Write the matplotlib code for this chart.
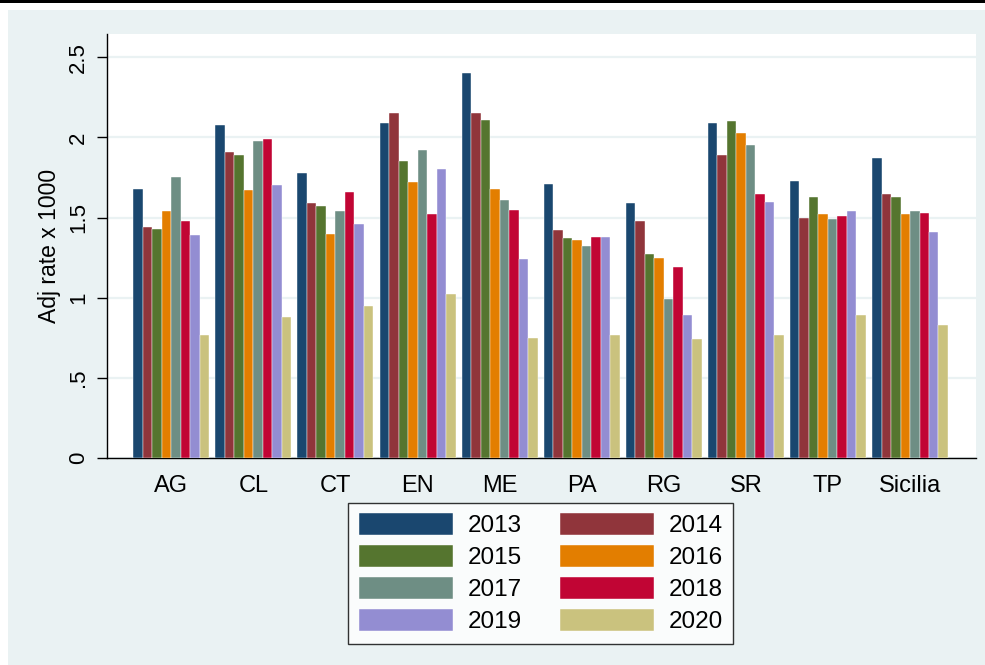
import numpy as np
import matplotlib
matplotlib.use('Agg')
import matplotlib.pyplot as plt
from matplotlib.patches import Rectangle

plt.rcParams['font.family'] = ['Liberation Sans', 'DejaVu Sans']

provinces = ['AG', 'CL', 'CT', 'EN', 'ME', 'PA', 'RG', 'SR', 'TP', 'Sicilia']
years = ['2013', '2014', '2015', '2016', '2017', '2018', '2019', '2020']

# adj rate x 1000, one list per year (order follows provinces)
rate_2013 = [1.68, 2.08, 1.78, 2.09, 2.40, 1.71, 1.59, 2.09, 1.73, 1.87]
rate_2014 = [1.44, 1.91, 1.59, 2.15, 2.15, 1.42, 1.48, 1.89, 1.50, 1.65]
rate_2015 = [1.43, 1.89, 1.57, 1.85, 2.11, 1.37, 1.27, 2.10, 1.63, 1.63]
rate_2016 = [1.54, 1.67, 1.40, 1.72, 1.68, 1.36, 1.25, 2.03, 1.52, 1.52]
rate_2017 = [1.75, 1.98, 1.54, 1.92, 1.61, 1.32, 0.99, 1.95, 1.49, 1.54]
rate_2018 = [1.48, 1.99, 1.66, 1.52, 1.55, 1.38, 1.19, 1.65, 1.51, 1.53]
rate_2019 = [1.39, 1.70, 1.46, 1.80, 1.24, 1.38, 0.89, 1.60, 1.54, 1.41]
rate_2020 = [0.77, 0.88, 0.95, 1.02, 0.75, 0.77, 0.74, 0.77, 0.89, 0.83]
rates = [rate_2013, rate_2014, rate_2015, rate_2016,
         rate_2017, rate_2018, rate_2019, rate_2020]

# stata s2color palette
colors = ['#1A476F', '#90353B', '#55752F', '#E37E00',
          '#6E8E84', '#C10534', '#938DD2', '#CAC27E']
bg = '#EAF2F3'

fig = plt.figure(figsize=(9.85, 6.65), dpi=100, facecolor='white')
# graph region + black strip on top
fig.patches.append(Rectangle((8/985, 0), 1, 1 - 10/665, transform=fig.transFigure,
                             facecolor=bg, edgecolor='none', zorder=-10))
fig.patches.append(Rectangle((0, 1 - 3/665), 1, 3/665, transform=fig.transFigure,
                             facecolor='black', edgecolor='none', zorder=-10))

ax = fig.add_axes([107/985, 1 - 458/665, (976 - 107)/985, (458 - 34)/665])
ax.set_facecolor('white')

x = np.arange(len(provinces))
w = 0.1157
bars = []
for i, (yr, vals) in enumerate(zip(years, rates)):
    b = ax.bar(x + (i - 3.5) * w, vals, width=w, color=colors[i], label=yr,
               edgecolor='white', linewidth=0.3, zorder=3)
    bars.append(b)

ax.set_xlim(-0.783, 9.804)
ax.set_ylim(0, 2.645)
ax.set_yticks([0, 0.5, 1, 1.5, 2, 2.5])
ax.set_yticklabels(['0', '.5', '1', '1.5', '2', '2.5'], rotation=90, va='center')
ax.set_xticks(x)
ax.set_xticklabels(provinces, fontsize=17)
ax.tick_params(axis='x', length=0, pad=12)
ax.tick_params(axis='y', length=7, width=1, pad=6, labelsize=16)
ax.yaxis.grid(True, color=bg, linewidth=1.6, zorder=0)
ax.set_axisbelow(True)

for s in ['top', 'right']:
    ax.spines[s].set_visible(False)
for s in ['left', 'bottom']:
    ax.spines[s].set_linewidth(1)
    ax.spines[s].set_color('black')

ax.set_ylabel('Adj rate x 1000', fontsize=16.5, labelpad=5)

# legend filled row by row like stata
order = [0, 2, 4, 6, 1, 3, 5, 7]
leg = fig.legend([bars[k] for k in order], [years[k] for k in order],
                 ncol=2, loc='upper center', bbox_to_anchor=(0.549, 1 - 503/665),
                 fontsize=17.5, frameon=True, fancybox=False, edgecolor='black',
                 facecolor='white', handlelength=3.87, handleheight=1.0,
                 labelspacing=0.32, handletextpad=0.62, columnspacing=1.55,
                 borderpad=0.42, borderaxespad=0)
leg.get_frame().set_linewidth(1)

fig.savefig('out.png', dpi=100, facecolor=fig.get_facecolor())
plt.close()
